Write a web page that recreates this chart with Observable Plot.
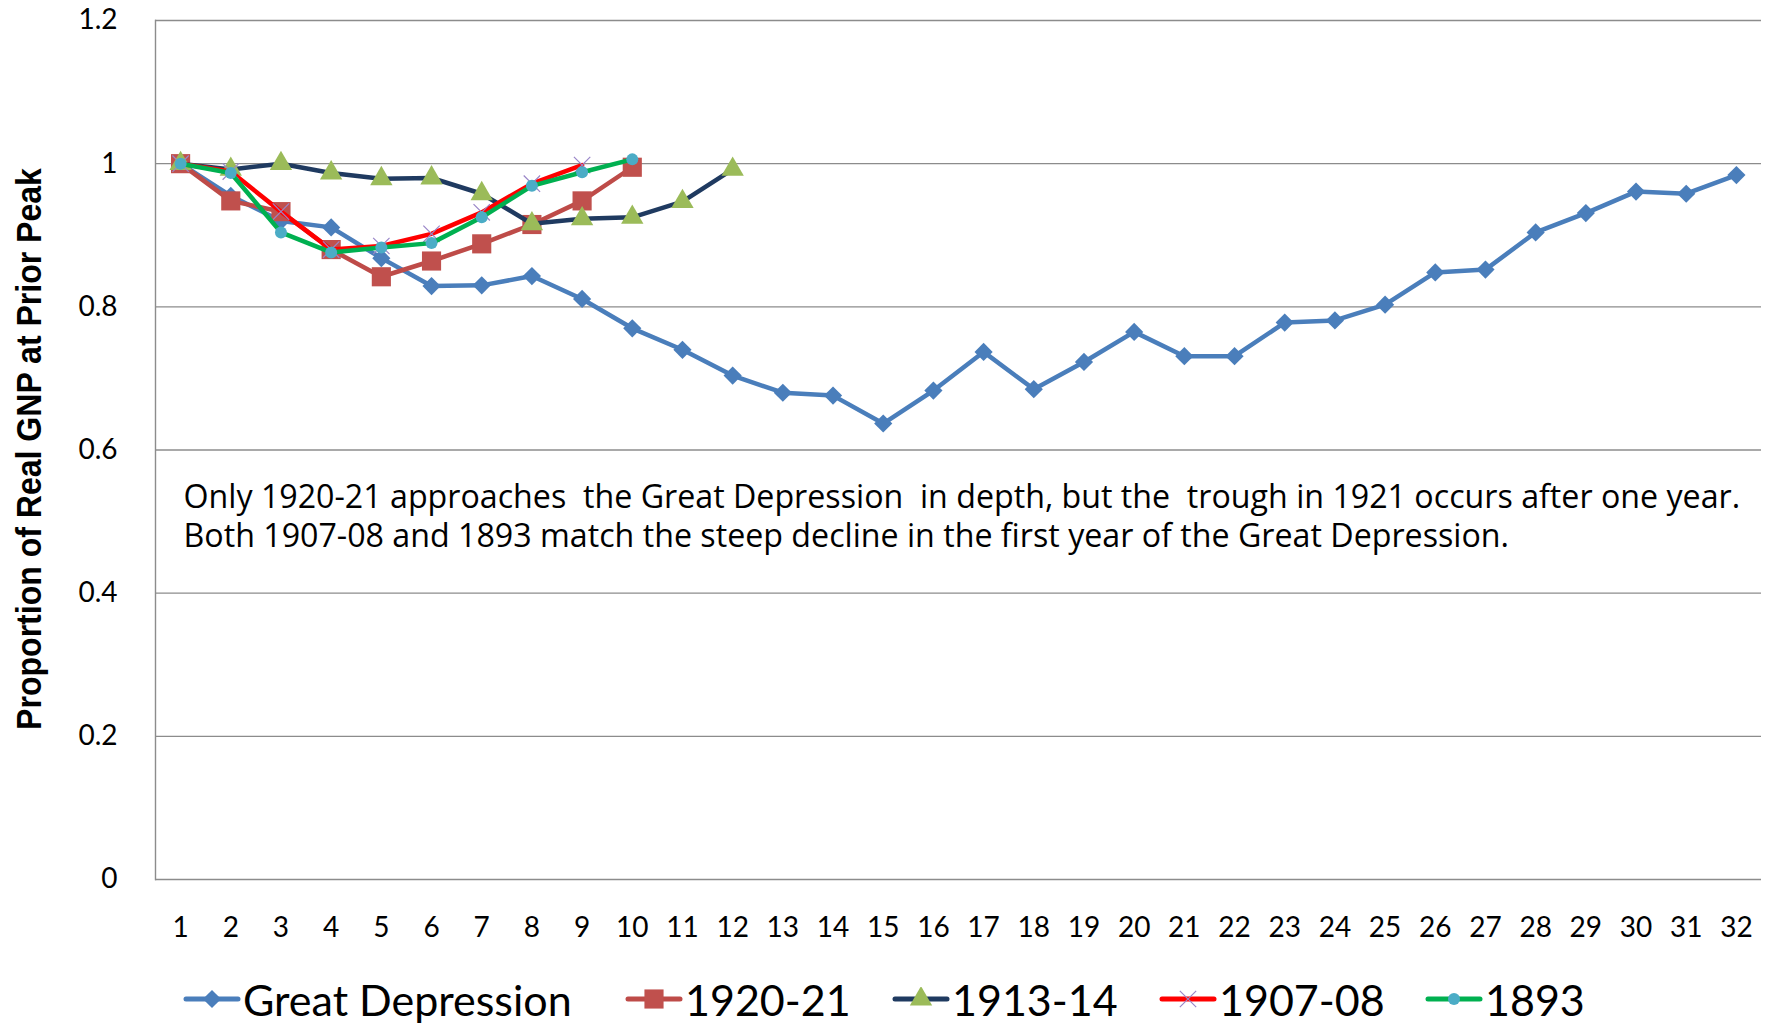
<!DOCTYPE html>
<html>
<head>
<meta charset="utf-8">
<script src="https://cdn.jsdelivr.net/npm/d3@7"></script>
<script src="https://cdn.jsdelivr.net/npm/@observablehq/plot@0.6"></script>
<style>
  html, body { margin: 0; padding: 0; background: #fff; }
  #wrap { position: relative; width: 1773px; height: 1023px; overflow: hidden; font-family: Lato, "Open Sans", sans-serif; }
  #ytitle { position: absolute; left: 28px; top: 449px; transform: translate(-50%, -50%) rotate(-90deg) scaleX(0.915);
    white-space: nowrap; font-family: "Liberation Sans", sans-serif;
    font-weight: bold; font-size: 35px; line-height: 1; color: #000; }
  .item { position: absolute; top: 978px; height: 42px; display: flex; align-items: center; }
  .item span { font-family: Lato, sans-serif; font-size: 43px; color: #000; line-height: 1; margin-left: 2px; }
</style>
</head>
<body>
<div id="wrap">
  <div id="chart"></div>
  <div id="ytitle">Proportion of Real GNP at Prior Peak</div>
  <div id="legend"></div>
</div>
<script>
// ---- data ----
const periods = [1,2,3,4,5,6,7,8,9,10,11,12,13,14,15,16,17,18,19,20,21,22,23,24,25,26,27,28,29,30,31,32];
const greatDepression = [1.000,0.955,0.920,0.911,0.868,0.829,0.830,0.843,0.811,0.770,0.740,0.704,0.680,0.676,0.637,0.683,0.737,0.685,0.723,0.765,0.731,0.731,0.778,0.781,0.803,0.848,0.852,0.904,0.931,0.961,0.958,0.984];
const dep1920 = [1.000,0.948,0.933,0.880,0.842,0.864,0.888,0.915,0.948,0.995];
const dep1913 = [1.000,0.992,1.000,0.987,0.979,0.980,0.958,0.916,0.923,0.925,0.947,0.992];
const dep1907 = [1.000,0.989,0.933,0.880,0.885,0.902,0.932,0.972,0.998];
const dep1893 = [1.000,0.987,0.904,0.876,0.883,0.889,0.925,0.969,0.988,1.006];
const yTicks = [0, 0.2, 0.4, 0.6, 0.8, 1.0, 1.2];
const note = "Only 1920-21 approaches  the Great Depression  in depth, but the  trough in 1921 occurs after one year.\nBoth 1907-08 and 1893 match the steep decline in the first year of the Great Depression.";

const seriesDefs = [
  {name: "Great Depression", values: greatDepression, line: "#4A7EBB", symbol: "diamond2", fill: "#4A7EBB", stroke: "none", r: 8.2},
  {name: "1920-21", values: dep1920, line: "#BE4B48", symbol: "square", fill: "#C0504D", stroke: "none", r: 10.8},
  {name: "1913-14", values: dep1913, line: "#1F3A60", symbol: "triangle", fill: "#9BBB59", stroke: "none", r: 8.3},
  {name: "1907-08", values: dep1907, line: "#FF0000", symbol: "times", fill: "none", stroke: "#9A86C8", r: 7.5},
  {name: "1893", values: dep1893, line: "#00B050", symbol: "circle", fill: "#4BACC6", stroke: "none", r: 6}
];
const legendLeft = [183, 625, 892, 1159, 1425];

const tables = seriesDefs.map(s => s.values.map((v, i) => ({series: s.name, period: periods[i], value: v})));

const marks = [
  Plot.ruleY(yTicks, {stroke: "#8c8c8c", strokeWidth: 1.4}),
  Plot.frame({anchor: "left", stroke: "#8c8c8c", strokeWidth: 1.4}),
  Plot.axisX({ticks: periods, tickSize: 0, tickPadding: 38, fontSize: 28, tickFormat: d => String(d), label: null}),
  Plot.axisY({ticks: yTicks, tickSize: 0, tickPadding: 38, fontSize: 28, tickFormat: d => String(+d.toFixed(1)), label: null}),
  Plot.text([note], {text: d => d, frameAnchor: "top-left", lineAnchor: "top", textAnchor: "start", dx: 28, dy: 459, fontSize: 32.2, lineHeight: 1.23, fill: "#000", fontFamily: "'Open Sans', sans-serif"})
];
seriesDefs.forEach((s, k) => {
  marks.push(Plot.line(tables[k], {x: "period", y: "value", stroke: s.line, strokeWidth: 4.5, curve: "linear"}));
  if (s.symbol === "times") {
    marks.push(Plot.dot(tables[k], {x: "period", y: "value", symbol: "times", stroke: s.stroke, strokeWidth: 1.2, r: s.r}));
  } else {
    marks.push(Plot.dot(tables[k], {x: "period", y: "value", symbol: s.symbol, fill: s.fill, stroke: "none", r: s.r}));
  }
});

const chart = Plot.plot({
  width: 1773,
  height: 960,
  marginLeft: 155,
  marginRight: 12,
  marginTop: 20,
  marginBottom: 81,
  style: {fontFamily: "Lato, 'Open Sans', sans-serif", color: "#000", background: "#fff", overflow: "visible"},
  x: {type: "linear", domain: [0.5, 32.5]},
  y: {type: "linear", domain: [0, 1.2]},
  marks
});
document.getElementById("chart").appendChild(chart);

// legend (HTML, swatches drawn as small inline svgs)
const legend = d3.select("#legend");
const symMap = {diamond2: d3.symbolDiamond2, square: d3.symbolSquare, triangle: d3.symbolTriangle, times: d3.symbolTimes, circle: d3.symbolCircle};
seriesDefs.forEach((s, k) => {
  const item = legend.append("div").attr("class", "item").style("left", legendLeft[k] + "px");
  const sw = item.append("svg").attr("width", 58).attr("height", 24);
  sw.append("line").attr("x1", 3).attr("x2", 55).attr("y1", 12).attr("y2", 12)
    .attr("stroke", s.line).attr("stroke-width", 5).attr("stroke-linecap", "round");
  const path = d3.symbol(symMap[s.symbol], Math.PI * s.r * s.r)();
  sw.append("path").attr("d", path).attr("transform", "translate(29,12)")
    .attr("fill", s.symbol === "times" ? "none" : s.fill)
    .attr("stroke", s.symbol === "times" ? s.stroke : "none").attr("stroke-width", 1.2);
  item.append("span").text(s.name);
});
</script>
</body>
</html>
